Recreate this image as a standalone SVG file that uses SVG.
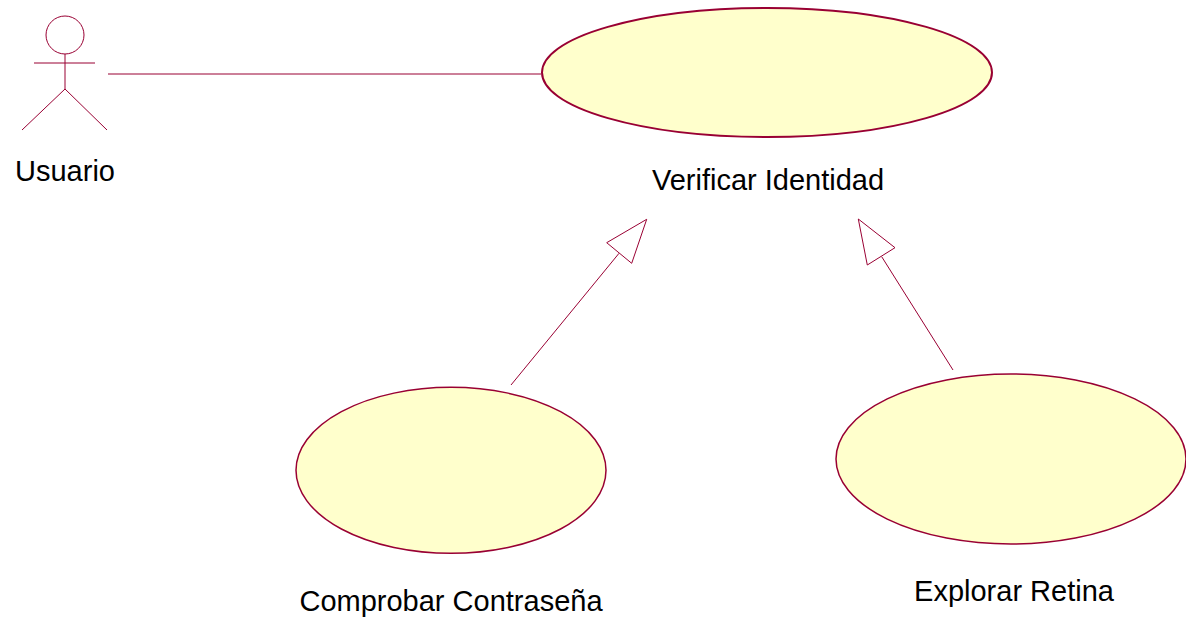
<svg xmlns="http://www.w3.org/2000/svg" width="1186" height="617" viewBox="0 0 1186 617">
<style>
.uc{fill:#FFFFCC;stroke:#990033;stroke-width:1.5}
.ln{stroke:#990033;stroke-width:1;fill:none}
.hd{stroke:#990033;stroke-width:1;fill:#FFFFFF}
.lbl{font-family:"Liberation Sans",Arial,sans-serif;font-size:29px;fill:#000000;text-anchor:middle}
</style>
<rect width="1186" height="617" fill="#FFFFFF"/>
<g id="connectors">
<line class="ln" x1="108" y1="74" x2="541" y2="74"/>
<line class="ln" x1="511" y1="385" x2="619" y2="253.3"/>
<polygon class="hd" points="646.7,219.3 606.7,242.7 631.7,263.3"/>
<line class="ln" x1="953" y1="370" x2="881.7" y2="256.7"/>
<polygon class="hd" points="858.3,219 895,247.7 867.3,265"/>
</g>
<g id="usuario">
<circle class="ln" cx="65" cy="35" r="19"/>
<line class="ln" x1="34" y1="63" x2="95" y2="63"/>
<line class="ln" x1="65" y1="54" x2="65" y2="89"/>
<line class="ln" x1="65" y1="89" x2="22" y2="130"/>
<line class="ln" x1="65" y1="89" x2="107" y2="130"/>
<text class="lbl" x="65" y="181">Usuario</text>
</g>
<g id="verificar-identidad">
<ellipse class="uc" cx="767" cy="72.5" rx="225" ry="64.5" style="stroke-width:2"/>
<text class="lbl" x="768" y="190">Verificar Identidad</text>
</g>
<g id="comprobar-contrasena">
<ellipse class="uc" cx="451" cy="470.3" rx="155" ry="83"/>
<text class="lbl" x="451" y="611">Comprobar Contraseña</text>
</g>
<g id="explorar-retina">
<ellipse class="uc" cx="1011" cy="459" rx="175" ry="85"/>
<text class="lbl" x="1014" y="601">Explorar Retina</text>
</g>
</svg>
